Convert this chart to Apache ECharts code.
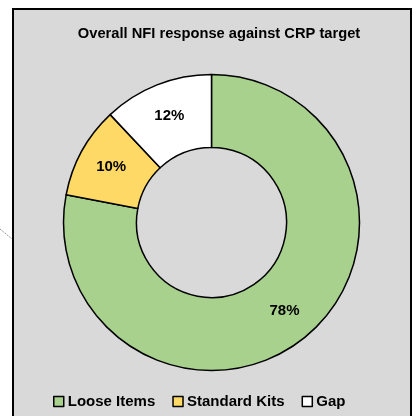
<!DOCTYPE html>
<html>
<head>
<meta charset="utf-8">
<script src="https://cdn.jsdelivr.net/npm/echarts@6/dist/echarts.min.js"></script>
<style>
  html, body { margin: 0; padding: 0; background: #fff; }
  #main { width: 416px; height: 416px; }
</style>
</head>
<body>
<div id="main"></div>
<script>
const titleText = 'Overall NFI response against CRP target';
const categories = ['Loose Items', 'Standard Kits', 'Gap'];
const shares = [78, 10, 12];
const colors = ['#a9d18e', '#ffd966', '#ffffff'];

const chart = echarts.init(document.getElementById('main'), null, { renderer: 'canvas' });
const font = '"Liberation Sans", Arial, sans-serif';

const options = {
  backgroundColor: '#fff',
  animation: false,
  graphic: [
    {
      type: 'rect', z: -10,
      shape: { x: 13, y: 9, width: 398, height: 420 },
      style: { fill: '#d9d9d9', stroke: '#000', lineWidth: 2 }
    },
    {
      type: 'line', z: -10,
      shape: { x1: 0, y1: 229, x2: 12, y2: 239 },
      style: { stroke: '#999', lineWidth: 1, lineDash: [2, 1] }
    }
  ],
  title: {
    text: titleText,
    left: 214, textAlign: 'center', top: 21,
    textStyle: { fontFamily: font, fontWeight: 'bold', fontSize: 14.7, color: '#000' }
  },
  legend: {
    bottom: 2, left: 48,
    icon: 'rect', itemWidth: 10, itemHeight: 10, itemGap: 17,
    textStyle: { fontFamily: font, fontWeight: 'bold', fontSize: 15, color: '#000', padding: [0, 0, 0, -1] },
    itemStyle: { borderColor: '#000', borderWidth: 1.5 },
    data: categories
  },
  series: [{
    type: 'pie',
    center: [211.5, 222.5],
    radius: [75, 148],
    startAngle: 90,
    clockwise: true,
    label: {
      show: true, position: 'inside',
      formatter: '{c}%',
      fontFamily: font, fontWeight: 'bold', fontSize: 15, color: '#000'
    },
    labelLine: { show: false },
    itemStyle: { borderColor: '#000', borderWidth: 1.5 },
    emphasis: { disabled: true },
    data: categories.map((name, i) => ({
      name: name, value: shares[i], itemStyle: { color: colors[i] }
    }))
  }]
};

chart.setOption(options);
</script>
</body>
</html>
